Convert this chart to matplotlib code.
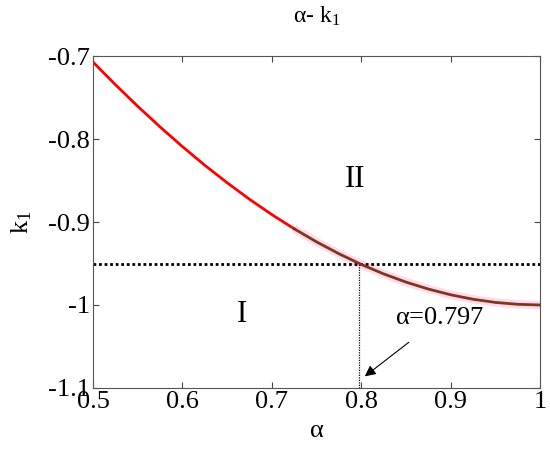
import matplotlib
matplotlib.use("Agg")
import matplotlib.pyplot as plt
import numpy as np

plt.rcParams['font.family'] = ['Liberation Serif', 'DejaVu Serif']
plt.rcParams['mathtext.fontset'] = 'custom'
plt.rcParams['mathtext.rm'] = 'Liberation Serif'
plt.rcParams['mathtext.it'] = 'Liberation Serif'

# values
alpha = [0.5, 0.525, 0.55, 0.575, 0.6, 0.625, 0.65, 0.675, 0.7, 0.725, 0.75,
         0.775, 0.8, 0.825, 0.85, 0.875, 0.9, 0.925, 0.95, 0.975, 1.0]
k1 = [-0.7071, -0.7343, -0.7604, -0.7853, -0.8090, -0.8315, -0.8526, -0.8725,
      -0.8910, -0.9081, -0.9239, -0.9382, -0.9511, -0.9625, -0.9724, -0.9808,
      -0.9877, -0.9931, -0.9969, -0.9992, -1.0]
split = 9  # colour changes near alpha = 0.725
k_cross = -0.95
alpha_cross = 0.797

fig = plt.figure(figsize=(5.5, 4.49), dpi=100)
ax = fig.add_axes([0.169, 0.136, 0.813, 0.739])

ax.plot(alpha[split:], k1[split:], color='#ffd8f0', lw=6, solid_capstyle='butt', zorder=1)
ax.plot(alpha[:split + 1], k1[:split + 1], color='red', lw=2, zorder=3)
ax.plot(alpha[split:], k1[split:], color='#7a3a18', lw=2, zorder=3)

ax.axhline(k_cross, color='black', ls=(0, (1, 1)), lw=2, zorder=2)
ax.plot([alpha_cross, alpha_cross], [-1.1, k_cross], color='black', ls=(0, (1, 1)), lw=0.9, zorder=2)

ax.annotate(r'$\alpha$=0.797', xy=(0.804, -1.086), xytext=(0.838, -1.016),
            fontsize=19, va='center', ha='left',
            arrowprops=dict(arrowstyle='-|>', color='black', lw=0.8, shrinkA=12, shrinkB=0,
                            mutation_scale=16))
ax.text(0.793, -0.849, 'II', fontsize=22, ha='center', va='center')
ax.text(0.667, -1.012, 'I', fontsize=22, ha='center', va='center')

ax.set_xlim(0.5, 1)
ax.set_ylim(-1.1, -0.7)
ax.set_xticks([0.5, 0.6, 0.7, 0.8, 0.9, 1])
ax.set_xticklabels(['0.5', '0.6', '0.7', '0.8', '0.9', '1'])
ax.set_yticks([-1.1, -1, -0.9, -0.8, -0.7])
ax.set_yticklabels(['-1.1', '-1', '-0.9', '-0.8', '-0.7'])
ax.tick_params(direction='in', labelsize=19, length=4, color='#444444', pad=2,
               top=True, right=True)
for s in ax.spines.values():
    s.set_color('#555555')
    s.set_linewidth(0.8)

ax.set_xlabel(r'$\alpha$', fontsize=19, labelpad=5)
ax.set_ylabel(r'k$_1$', fontsize=19, labelpad=10)
ax.set_title(r'$\alpha$- k$_1$', fontsize=17, pad=24)

fig.savefig('out.png', dpi=100)
